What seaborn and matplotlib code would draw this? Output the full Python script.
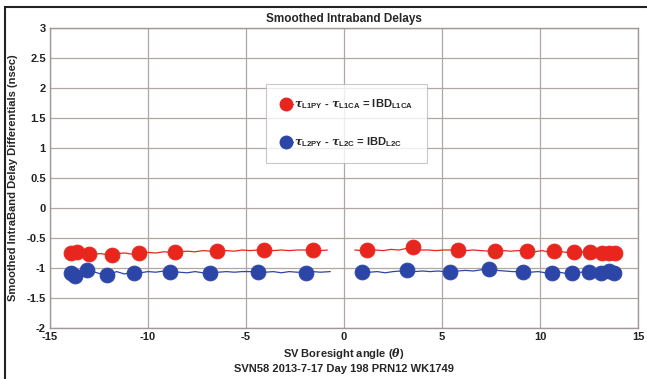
import numpy as np
import pandas as pd
import matplotlib
matplotlib.use("Agg")
import matplotlib.pyplot as plt
from matplotlib.lines import Line2D
from matplotlib.patches import Rectangle
import seaborn as sns

# ---- data ----
red_mx = [-13.94, -13.6, -13.0, -11.86, -10.45, -8.63, -6.5, -4.08, -1.6,
          1.19, 3.5, 5.8, 7.7, 9.33, 10.7, 11.76, 12.57, 13.17, 13.5, 13.83]
red_my = [-0.75, -0.73, -0.77, -0.78, -0.75, -0.73, -0.72, -0.70, -0.70,
          -0.70, -0.65, -0.70, -0.72, -0.72, -0.71, -0.74, -0.74, -0.75, -0.75, -0.75]
blue_mx = [-13.94, -13.7, -13.1, -12.1, -10.7, -8.9, -6.86, -4.4, -1.94,
           0.93, 3.2, 5.43, 7.4, 9.13, 10.6, 11.65, 12.5, 13.1, 13.5, 13.8]
blue_my = [-1.08, -1.13, -1.04, -1.12, -1.08, -1.06, -1.08, -1.06, -1.08,
           -1.06, -1.04, -1.06, -1.02, -1.06, -1.08, -1.09, -1.07, -1.08, -1.05, -1.08]

red_line_x_a = [-14.0, -13.6, -13.2, -12.8, -12.4, -12.0, -11.6, -11.2, -10.8, -10.4,
                -10.0, -9.6, -9.2, -8.8, -8.4, -8.0, -7.6, -7.2, -6.8, -6.4,
                -6.0, -5.6, -5.2, -4.8, -4.4, -4.0, -3.6, -3.2, -2.8, -2.4,
                -2.0, -1.6, -1.2, -0.85]
red_line_y_a = [-0.75, -0.74, -0.77, -0.77, -0.76, -0.78, -0.76, -0.75, -0.77, -0.75,
                -0.74, -0.75, -0.73, -0.74, -0.73, -0.72, -0.73, -0.71, -0.72, -0.72,
                -0.71, -0.72, -0.70, -0.71, -0.70, -0.69, -0.71, -0.70, -0.71, -0.70,
                -0.70, -0.70, -0.71, -0.70]
red_line_x_b = [0.55, 0.9, 1.2, 1.6, 2.0, 2.4, 2.8, 3.1, 3.5, 3.9,
                4.3, 4.7, 5.1, 5.5, 5.8, 6.2, 6.6, 7.0, 7.4, 7.7,
                8.1, 8.5, 8.9, 9.3, 9.7, 10.1, 10.4, 10.7, 11.1, 11.4,
                11.76, 12.1, 12.57, 13.0, 13.4, 13.83]
red_line_y_b = [-0.70, -0.71, -0.70, -0.70, -0.71, -0.69, -0.70, -0.68, -0.65, -0.70,
                -0.70, -0.71, -0.70, -0.70, -0.70, -0.71, -0.70, -0.71, -0.72, -0.72,
                -0.71, -0.72, -0.71, -0.72, -0.73, -0.71, -0.73, -0.71, -0.73, -0.74,
                -0.74, -0.73, -0.74, -0.75, -0.74, -0.75]
blue_line_x_a = [-14.0, -13.6, -13.2, -12.8, -12.4, -12.0, -11.6, -11.2, -10.8, -10.4,
                 -10.0, -9.6, -9.2, -8.8, -8.4, -8.0, -7.6, -7.2, -6.8, -6.4,
                 -6.0, -5.6, -5.2, -4.8, -4.4, -4.0, -3.6, -3.2, -2.8, -2.4,
                 -2.0, -1.6, -1.2, -0.7]
blue_line_y_a = [-1.08, -1.12, -1.05, -1.06, -1.10, -1.11, -1.06, -1.10, -1.07, -1.08,
                 -1.06, -1.07, -1.05, -1.06, -1.07, -1.08, -1.06, -1.08, -1.07, -1.07,
                 -1.06, -1.07, -1.06, -1.06, -1.06, -1.07, -1.06, -1.08, -1.06, -1.07,
                 -1.07, -1.06, -1.07, -1.06]
blue_line_x_b = [0.63, 0.93, 1.3, 1.7, 2.1, 2.5, 2.9, 3.2, 3.6, 4.0,
                 4.4, 4.8, 5.1, 5.43, 5.8, 6.2, 6.6, 7.0, 7.4, 7.8,
                 8.2, 8.6, 9.13, 9.5, 9.9, 10.3, 10.6, 11.0, 11.3, 11.65,
                 12.1, 12.5, 13.1, 13.5, 13.8]
blue_line_y_b = [-1.06, -1.06, -1.07, -1.06, -1.08, -1.06, -1.05, -1.04, -1.06, -1.05,
                 -1.06, -1.05, -1.06, -1.06, -1.05, -1.04, -1.05, -1.03, -1.02, -1.04,
                 -1.05, -1.06, -1.06, -1.07, -1.06, -1.08, -1.08, -1.07, -1.09, -1.09,
                 -1.07, -1.07, -1.08, -1.06, -1.08]

x_ticks = [-15, -10, -5, 0, 5, 10, 15]
y_ticks = [-2, -1.5, -1, -0.5, 0, 0.5, 1, 1.5, 2, 2.5, 3]
y_tick_labels = ["-2", "-1.5", "-1", "-0.5", "0", "0.5", "1", "1.5", "2", "2.5", "3"]

RED = "#e8261e"
BLUE = "#2c46a8"

sns.set_theme(style="white")
plt.rcParams["font.family"] = ["Liberation Sans", "DejaVu Sans"]
plt.rcParams["font.weight"] = "bold"
plt.rcParams["mathtext.fontset"] = "custom"
plt.rcParams["mathtext.rm"] = "Liberation Sans:bold"
plt.rcParams["mathtext.bf"] = "Liberation Sans:bold"
plt.rcParams["mathtext.it"] = "DejaVu Serif:italic"

fig = plt.figure(figsize=(6.47, 3.79), dpi=100)
ax = fig.add_axes([50/647, 51/379, 588/647, 300/379])

for xs, ys, c in [(red_line_x_a, red_line_y_a, RED), (red_line_x_b, red_line_y_b, RED),
                  (blue_line_x_a, blue_line_y_a, BLUE), (blue_line_x_b, blue_line_y_b, BLUE)]:
    df = pd.DataFrame({"x": xs, "y": ys})
    sns.lineplot(data=df, x="x", y="y", ax=ax, color=c, lw=0.9, sort=False,
                 estimator=None, legend=False)

sns.scatterplot(x=red_mx, y=red_my, ax=ax, color=RED, s=115, edgecolor=RED,
                linewidth=0.6, legend=False, zorder=3)
sns.scatterplot(x=blue_mx, y=blue_my, ax=ax, color=BLUE, s=115, edgecolor=BLUE,
                linewidth=0.6, legend=False, zorder=3)

ax.set_xlim(-15, 15)
ax.set_ylim(-2, 3)
ax.set_xticks(x_ticks)
ax.set_xticklabels([str(t) for t in x_ticks])
ax.set_yticks(y_ticks)
ax.set_yticklabels(y_tick_labels)
ax.tick_params(length=0, labelsize=8, pad=3, colors="#222222")
for lab in ax.get_xticklabels() + ax.get_yticklabels():
    lab.set_fontweight("bold")
ax.grid(True, color="#b0a6a2", lw=0.9)
for sp in ax.spines.values():
    sp.set_color("#a09894")
    sp.set_linewidth(1.0)

ax.set_title("Smoothed Intraband Delays", fontsize=8.5, fontweight="bold", pad=4)
ax.set_xlabel("SV Boresight angle ($\\it{\\theta}$)\nSVN58 2013-7-17 Day 198 PRN12 WK1749",
              fontsize=8, fontweight="bold", labelpad=3, linespacing=1.3)
ax.set_ylabel("Smoothed IntraBand Delay Differentials (nsec)", fontsize=8,
              fontweight="bold", labelpad=6)

h1 = Line2D([], [], color=RED, marker="o", markersize=9, lw=0.9)
h2 = Line2D([], [], color=BLUE, marker="o", markersize=9, lw=0.9)
lab1 = r"$\mathit{\tau}_{\mathbf{L1PY}}$ - $\mathit{\tau}_{\mathbf{L1CA}}$ = IBD$_{\mathbf{L1CA}}$"
lab2 = r"$\mathit{\tau}_{\mathbf{L2PY}}$ - $\mathit{\tau}_{\mathbf{L2C}}$ = IBD$_{\mathbf{L2C}}$"
leg = ax.legend([h1, h2], [lab1, lab2], loc="upper left", bbox_to_anchor=(0.368, 0.813),
                fontsize=8, handlelength=1.2, handletextpad=0.1, labelspacing=2.2,
                borderpad=1.2, frameon=True, fancybox=False, borderaxespad=0)
leg.get_frame().set_edgecolor("#bbbbbb")
leg.get_frame().set_linewidth(0.8)
for t in leg.get_texts():
    t.set_fontweight("bold")

fig.patches.append(Rectangle((5/647, -0.2), 2.0, 1.2 - 7/379,
                             transform=fig.transFigure, fill=False,
                             edgecolor="#222222", lw=1.5))

fig.savefig("out.png", dpi=100)
